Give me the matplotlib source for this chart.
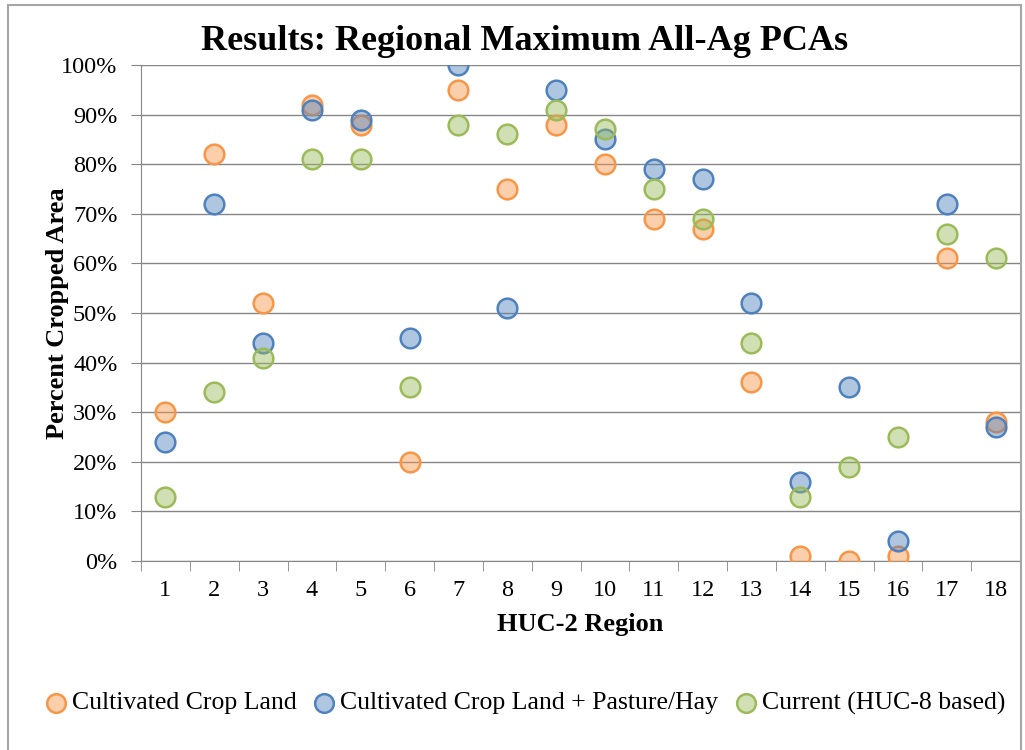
import numpy as np
import matplotlib
matplotlib.use("Agg")
import matplotlib.pyplot as plt
from matplotlib.patches import Rectangle
from matplotlib.ticker import PercentFormatter

regions = list(range(1, 19))
cultivated = [30, 82, 52, 92, 88, 20, 95, 75, 88, 80, 69, 67, 36, 1, 0, 1, 61, 28]
cult_pasture = [24, 72, 44, 91, 89, 45, 100, 51, 95, 85, 79, 77, 52, 16, 35, 4, 72, 27]
current = [13, 34, 41, 81, 81, 35, 88, 86, 91, 87, 75, 69, 44, 13, 19, 25, 66, 61]

series_names = ["Cultivated Crop Land", "Cultivated Crop Land + Pasture/Hay", "Current (HUC-8 based)"]
edge_colors = ["#F79646", "#4F81BD", "#9BBB59"]

plt.rcParams['font.family'] = ['Liberation Serif', 'DejaVu Serif']

fig = plt.figure(figsize=(10.25, 7.5), dpi=100)
ax = fig.add_axes([141/1025, 1-561/750, (1020-141)/1025, (561-65)/750])

for vals, name, col in zip([cultivated, cult_pasture, current], series_names, edge_colors):
    ax.scatter(regions, np.array(vals)/100, s=200, facecolor=matplotlib.colors.to_rgba(col, 0.45),
               edgecolor=col, linewidth=1.8, label=name, zorder=3)

ax.set_xlim(0.5, 18.5)
ax.set_ylim(0, 1)
ax.set_yticks(np.arange(0, 1.01, 0.1))
ax.yaxis.set_major_formatter(PercentFormatter(1.0, decimals=0))
ax.set_xticks(regions)
ax.set_xticks(np.arange(0.5, 18.6, 1), minor=True)
ax.tick_params(axis="x", which="major", length=0, labelsize=17.5, pad=14)
ax.tick_params(axis="x", which="minor", length=7, color="#868686", direction="out")
ax.tick_params(axis="y", length=7, color="#868686", labelsize=17.5, pad=10)
ax.grid(True, axis="y", color="#868686", linewidth=1)
ax.set_axisbelow(True)
for s in ["top", "right"]:
    ax.spines[s].set_visible(False)
for s in ["left", "bottom"]:
    ax.spines[s].set_color("#868686")

ax.set_xlabel("HUC-2 Region", fontsize=19, fontweight="bold", labelpad=8)
ax.set_ylabel("Percent Cropped Area", fontsize=19, fontweight="bold")
ax.yaxis.set_label_coords(-0.082, 0.5)
fig.text(0.512, 0.945, "Results: Regional Maximum All-Ag PCAs", fontsize=26, fontweight="bold",
         ha="center", va="center")

fig.legend(loc="center", bbox_to_anchor=(0.513, 1-703/750), ncol=3, frameon=False, fontsize=18.5,
           handlelength=0.75, handletextpad=0.25, columnspacing=0.7, borderaxespad=0, markerscale=0.95)

fig.patches.append(Rectangle((8/1025, -0.05), (1021-8)/1025, 1.05-5/750, transform=fig.transFigure,
                             fill=False, edgecolor="#A6A6A6", linewidth=1.5))

fig.savefig("out.png", dpi=100)
